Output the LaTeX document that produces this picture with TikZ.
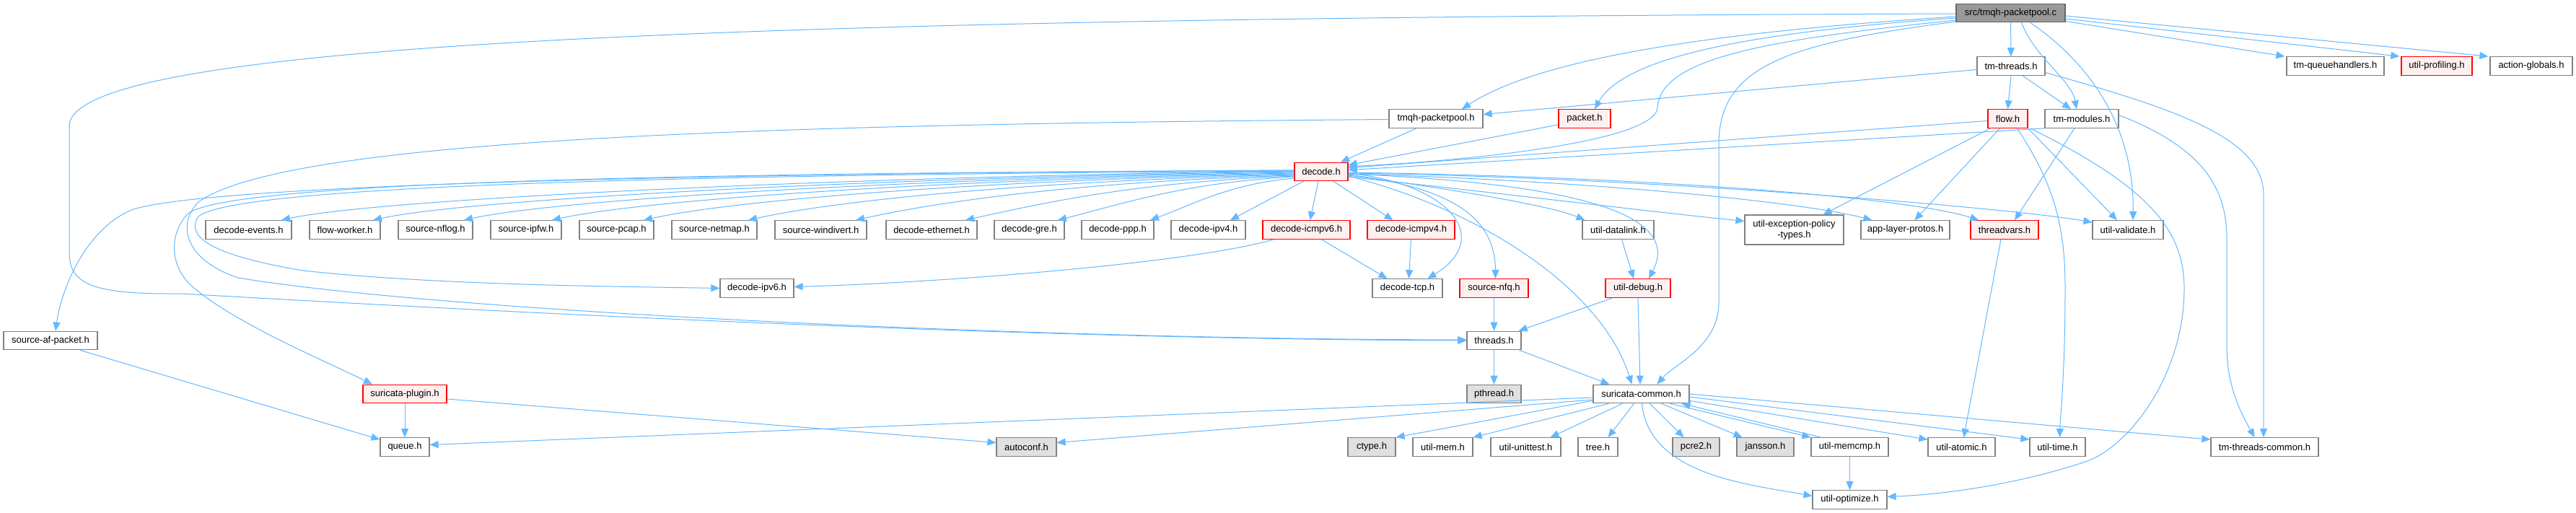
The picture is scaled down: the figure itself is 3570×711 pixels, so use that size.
\documentclass[tikz,border=0pt]{standalone}
\usepackage{fontspec}
\setmainfont{Liberation Sans}
\usetikzlibrary{arrows.meta,calc}
\definecolor{edgec}{HTML}{63B8FF}
\definecolor{nodeb}{HTML}{808080}
\definecolor{redb}{HTML}{FF0000}
\definecolor{redf}{HTML}{FFF0F0}
\definecolor{grayf}{HTML}{E0E0E0}
\definecolor{topf}{HTML}{999999}
\definecolor{topb}{HTML}{666666}
\begin{document}
\begin{tikzpicture}[x=1pt,y=-1pt,
  nd/.style={draw=nodeb, fill=white, line width=1.2pt, inner sep=0pt, minimum height=25.5pt, font=\fontsize{13}{14.5}\selectfont, text=black},
  rd/.style={nd, draw=redb, fill=redf},
  gd/.style={nd, fill=grayf},
  td/.style={nd, draw=topb, fill=topf},
  e/.style={draw=edgec, line width=1pt, -{Triangle[length=12pt,width=10pt]}}]
\useasboundingbox[fill=white] (0,0) rectangle (3570,711);

% nodes
\node[td, minimum width=151pt] (T) at (2786.5,18) {src/tmqh-packetpool.c};
\node[nd, minimum width=94pt] (tmthreads) at (2787,91.5) {tm-threads.h};
\node[nd, minimum width=135pt] (tmqh) at (3236.5,91.5) {tm-queuehandlers.h};
\node[rd, minimum width=98pt] (prof) at (3377,91.5) {util-profiling.h};
\node[nd, minimum width=114pt] (actg) at (3508,91.5) {action-globals.h};
\node[nd, minimum width=130pt] (tmqhpp) at (1990,164.5) {tmqh-packetpool.h};
\node[rd, minimum width=72pt] (packet) at (2196,164.5) {packet.h};
\node[rd, minimum width=55pt] (flow) at (2782.5,164.5) {flow.h};
\node[nd, minimum width=102pt] (tmmod) at (2885,164.5) {tm-modules.h};
\node[rd, minimum width=74pt] (decode) at (1831,238) {decode.h};

\node[nd, minimum width=119pt] (devents) at (344.5,318.5) {decode-events.h};
\node[nd, minimum width=98pt] (flowworker) at (478,318.5) {flow-worker.h};
\node[nd, minimum width=103pt] (nflog) at (603.5,318.5) {source-nflog.h};
\node[nd, minimum width=98pt] (ipfw) at (729,318.5) {source-ipfw.h};
\node[nd, minimum width=103pt] (pcap) at (854.5,318.5) {source-pcap.h};
\node[nd, minimum width=118pt] (netmap) at (990,318.5) {source-netmap.h};
\node[nd, minimum width=127pt] (windivert) at (1137.5,318.5) {source-windivert.h};
\node[nd, minimum width=126pt] (ethernet) at (1291,318.5) {decode-ethernet.h};
\node[nd, minimum width=97pt] (gre) at (1426.5,318.5) {decode-gre.h};
\node[nd, minimum width=100pt] (ppp) at (1549,318.5) {decode-ppp.h};
\node[nd, minimum width=103pt] (ipv4) at (1674.5,318.5) {decode-ipv4.h};
\node[rd, minimum width=121pt] (icmpv6) at (1810.5,318.5) {decode-icmpv6.h};
\node[rd, minimum width=121pt] (icmpv4) at (1955.5,318.5) {decode-icmpv4.h};
\node[nd, minimum width=99pt] (datalink) at (2242.5,318.5) {util-datalink.h};
\node[nd, minimum width=137pt, minimum height=41pt, align=center] (exc) at (2486.5,318.5) {util-exception-policy\\-types.h};
\node[nd, minimum width=123pt] (alp) at (2640.5,318.5) {app-layer-protos.h};
\node[rd, minimum width=94pt] (threadvars) at (2778,318.5) {threadvars.h};
\node[nd, minimum width=98pt] (validate) at (2949,318.5) {util-validate.h};

\node[nd, minimum width=102pt] (ipv6) at (1049,399.5) {decode-ipv6.h};
\node[nd, minimum width=97pt] (tcp) at (1950.5,399.5) {decode-tcp.h};
\node[rd, minimum width=95pt] (nfq) at (2070.5,399.5) {source-nfq.h};
\node[rd, minimum width=90pt] (debug) at (2270,399.5) {util-debug.h};

\node[nd, minimum width=130pt] (afpacket) at (70,472) {source-af-packet.h};
\node[nd, minimum width=75pt] (threads) at (2070.5,472) {threads.h};

\node[rd, minimum width=116pt] (plugin) at (561,546) {suricata-plugin.h};
\node[gd, minimum width=75pt] (pthread) at (2070.5,546) {pthread.h};
\node[nd, minimum width=133pt] (sc) at (2274.5,546) {suricata-common.h};

\node[nd, minimum width=68pt] (queue) at (561,619.5) {queue.h};
\node[gd, minimum width=83pt] (autoconf) at (1422.5,619.5) {autoconf.h};
\node[gd, minimum width=66pt] (ctype) at (1901,619.5) {ctype.h};
\node[nd, minimum width=83pt] (mem) at (1999.5,619.5) {util-mem.h};
\node[nd, minimum width=97pt] (unittest) at (2114.5,619.5) {util-unittest.h};
\node[nd, minimum width=55pt] (tree) at (2214.5,619.5) {tree.h};
\node[gd, minimum width=65pt] (pcre2) at (2350.5,619.5) {pcre2.h};
\node[gd, minimum width=79pt] (jansson) at (2446.5,619.5) {jansson.h};
\node[nd, minimum width=107pt] (memcmp) at (2563.5,619.5) {util-memcmp.h};
\node[nd, minimum width=93pt] (atomic) at (2718.5,619.5) {util-atomic.h};
\node[nd, minimum width=77pt] (time) at (2851.5,619.5) {util-time.h};
\node[nd, minimum width=149pt] (ttc) at (3138.5,619.5) {tm-threads-common.h};
\node[nd, minimum width=103pt] (optimize) at (2563.5,692.5) {util-optimize.h};

% edges from src/tmqh-packetpool.c
\draw[e] (T) -- (tmthreads);
\draw[e] ([xshift=15pt]T.south) .. controls (2820,80) and (2870,110) .. ([xshift=-7pt]tmmod.north);
\draw[e] ([xshift=27pt]T.south) .. controls (2900,90) and (2958,180) .. ([xshift=7pt]validate.north);
\draw[e] ($(T.south east)+(0,-2)$) -- ([xshift=-2pt]tmqh.north west);
\draw[e] ($(T.east)+(0,8)$) -- ([xshift=-2pt]prof.north west);
\draw[e] ($(T.east)+(0,4)$) -- ([xshift=-2pt]actg.north west);
\draw[e] ($(T.west)+(0,5)$) .. controls (2450,40) and (2150,70) .. ([xshift=36pt]tmqhpp.north);
\draw[e] ($(T.west)+(0,7)$) .. controls (2420,45) and (2250,80) .. ([xshift=14pt]packet.north);
\draw[e] ($(T.west)+(0,10)$) .. controls (2450,55) and (2300,80) .. (2297,150) .. controls (2290,200) and (2000,225) .. ($(decode.north east)+(0,6)$);
\draw[e] ($(T.west)+(0,12)$) .. controls (2480,60) and (2382,90) .. (2382,200) -- (2382,420) .. controls (2382,480) and (2320,505) .. ([xshift=22pt]sc.north);
\draw[e] ($(T.west)+(0,1)$) .. controls (1000,25) and (96,60) .. (96,175) -- (96,350) .. controls (96,395) and (130,408) .. (250,407) .. controls (400,415) and (1300,470) .. (threads.west);

% tm-threads.h
\draw[e] ($(tmthreads.west)+(0,5)$) -- ($(tmqhpp.east)+(0,-6)$);
\draw[e] (tmthreads.south) -- (flow.north);
\draw[e] ([xshift=16pt]tmthreads.south) -- ([xshift=-15pt]tmmod.north);
\draw[e] ($(tmthreads.east)+(0,9)$) .. controls (3010,150) and (3137,190) .. (3137,270) -- ([xshift=-1.5pt]ttc.north);

% flow.h
\draw[e] ($(flow.west)+(0,3)$) -- ($(decode.north east)+(0,8)$);
\draw[e] ([xshift=-24pt]flow.south) -- ([xshift=40pt]exc.north);
\draw[e] ([xshift=-11pt]flow.south) -- ([xshift=13pt]alp.north);
\draw[e] ([xshift=13pt]flow.south) .. controls (2850,260) and (2862,320) .. (2862,400) .. controls (2862,520) and (2855,580) .. ([xshift=3pt]time.north);
\draw[e] (flow.south east) -- ([xshift=-15pt]validate.north);
\draw[e] ($(flow.south east)+(3,0)$) .. controls (2980,260) and (3027,320) .. (3027,400) .. controls (3027,520) and (2950,620) .. (2890,640) .. controls (2800,670) and (2700,685) .. ($(optimize.east)+(0,-4)$);

% tm-modules.h
\draw[e] (tmmod.south west) -- ($(decode.north east)+(0,11)$);
\draw[e] ([xshift=-10pt]tmmod.south) -- ([xshift=14pt]threadvars.north);
\draw[e] ($(tmmod.east)+(0,-5)$) .. controls (3040,200) and (3086,250) .. (3086,330) -- (3086,480) .. controls (3086,540) and (3110,580) .. ([xshift=-14pt]ttc.north);

% threadvars
\draw[e] ([xshift=-5pt]threadvars.south) -- ([xshift=3pt]atomic.north);

% tmqh-packetpool.h / packet.h
\draw[e] ([xshift=-27pt]tmqhpp.south) -- ([xshift=27pt]decode.north);
\draw[e] ($(tmqhpp.west)+(0,1)$) .. controls (1100,172) and (400,190) .. (275,280) .. controls (245,310) and (255,360) .. (330,385) .. controls (600,430) and (1400,470) .. ($(threads.west)+(0,-1)$);
\draw[e] ($(packet.south west)+(0,-5)$) -- ($(decode.north east)+(0,4)$);

% decode.h fan to the left
\draw[e] ($(decode.west)+(0,-1)$) .. controls (1162,245) and (520,276) .. ([xshift=45.5pt]devents.north);
\draw[e] ($(decode.west)+(0,0)$) .. controls (1219,246) and (647,276) .. ([xshift=39pt]flowworker.north);
\draw[e] ($(decode.west)+(0,1)$) .. controls (1276,247) and (773,276) .. ([xshift=39.5pt]nflog.north);
\draw[e] ($(decode.west)+(0,2)$) .. controls (1331,248) and (895,276) .. ([xshift=36pt]ipfw.north);
\draw[e] ($(decode.west)+(0,3)$) .. controls (1388,249) and (1022,276) .. ([xshift=37.5pt]pcap.north);
\draw[e] ($(decode.west)+(0,4)$) .. controls (1453,250) and (1167,276) .. ([xshift=47pt]netmap.north);
\draw[e] ($(decode.west)+(0,5)$) .. controls (1520,251) and (1316,276) .. ([xshift=48.5pt]windivert.north);
\draw[e] ($(decode.west)+(0,6)$) .. controls (1589,252) and (1468,276) .. ([xshift=47pt]ethernet.north);
\draw[e] ($(decode.west)+(0,7)$) .. controls (1646,253) and (1564,280) .. ([xshift=39.5pt]gre.north);
\draw[e] ($(decode.west)+(0,9)$) .. controls (1704,255) and (1654,283) .. ([xshift=45pt]ppp.north);
\draw[e] ([xshift=13pt]decode.south west) -- ([xshift=30.5pt]ipv4.north);
\draw[e] ([xshift=-4pt]decode.south) -- ([xshift=5pt]icmpv6.north);
\draw[e] ([xshift=17pt]decode.south) -- ([xshift=-25pt]icmpv4.north);
\draw[e] ($(decode.west)+(0,-2)$) .. controls (1000,240) and (300,255) .. (185,290) .. controls (120,315) and (85,400) .. ([xshift=7pt]afpacket.north);
\draw[e] ($(decode.west)+(0,-2)$) .. controls (1000,240) and (330,250) .. (262,295) .. controls (235,320) and (232,370) .. (270,400) .. controls (330,450) and (450,500) .. ([xshift=-45pt]plugin.north);
\draw[e] ($(decode.west)+(0,-1)$) .. controls (1000,242) and (330,255) .. (275,300) .. controls (255,330) and (300,355) .. (420,375) .. controls (600,395) and (850,397) .. (ipv6.west);

% decode.h fan to the right
\draw[e] ($(decode.east)+(0,2)$) .. controls (2010,255) and (2070,330) .. ([xshift=28pt]tcp.north);
\draw[e] ($(decode.east)+(0,4)$) .. controls (2010,260) and (2072,300) .. ([xshift=2pt]nfq.north);
\draw[e] ($(decode.east)+(0,6)$) .. controls (2050,290) and (2220,400) .. ([xshift=-13pt]sc.north);
\draw[e] ($(decode.east)+(0,3)$) .. controls (2200,255) and (2330,300) .. ([xshift=15pt]debug.north);
\draw[e] ($(decode.east)+(0,5)$) .. controls (2000,260) and (2150,285) .. ([xshift=4pt]datalink.north west);
\draw[e] ($(decode.east)+(0,7)$) .. controls (2100,270) and (2300,295) .. ($(exc.north west)+(0,9)$);
\draw[e] ($(decode.east)+(0,3)$) .. controls (2200,250) and (2500,280) .. ([xshift=16pt]alp.north west);
\draw[e] ($(decode.east)+(0,1)$) .. controls (2300,245) and (2650,275) .. ([xshift=12pt]threadvars.north west);
\draw[e] ($(decode.east)+(0,2)$) .. controls (2300,246) and (2800,290) .. ($(validate.north west)+(0,3)$);

% lower part
\draw[e] ([xshift=16pt]icmpv6.south west) .. controls (1650,365) and (1300,392) .. ($(ipv6.east)+(0,-2)$);
\draw[e] ([xshift=21pt]icmpv6.south) -- ([xshift=-28pt]tcp.north);
\draw[e] (icmpv4.south) -- ([xshift=2pt]tcp.north);
\draw[e] ([xshift=5pt]datalink.south) -- ([xshift=-6pt]debug.north);
\draw[e] (nfq) -- (threads);
\draw[e] ([xshift=-35pt]debug.south) -- ($(threads.north east)+(-4,0)$);
\draw[e] (debug.south) -- ([xshift=-1.5pt]sc.north);
\draw[e] (threads) -- (pthread);
\draw[e] ($(threads.south east)+(-3,0)$) -- ([xshift=-44pt]sc.north);

\draw[e] ($(sc.west)+(0,5)$) -- ($(queue.east)+(0,-3)$);
\draw[e] ($(sc.west)+(0,8)$) -- ($(autoconf.east)+(0,-6)$);
\draw[e] ($(plugin.east)+(0,7)$) -- ($(autoconf.west)+(0,-6)$);
\draw[e] (plugin) -- (queue);
\draw[e] ([xshift=41pt]afpacket.south) -- ($(queue.north west)+(0,3)$);
\draw[e] ($(sc.south west)+(0,-4)$) -- (ctype.north east);
\draw[e] ([xshift=-45pt]sc.south) -- (mem.north east);
\draw[e] ([xshift=-26pt]sc.south) -- ([xshift=34pt]unittest.north);
\draw[e] ([xshift=-10pt]sc.south) -- ([xshift=14pt]tree.north);
\draw[e] ([xshift=12pt]sc.south) -- ([xshift=-17pt]pcre2.north);
\draw[e] ([xshift=28pt]sc.south) -- ([xshift=-32pt]jansson.north);
\draw[e] ([xshift=40pt]sc.south) -- (memcmp.north west);
\draw[e] ([xshift=-40pt]memcmp.north) -- ([xshift=56pt]sc.south);
\draw[e] ($(sc.south east)+(0,-4)$) -- ($(atomic.north west)+(0,3)$);
\draw[e] ($(sc.east)+(0,4)$) -- ($(time.north west)+(0,3)$);
\draw[e] (sc.east) -- ($(ttc.north west)+(0,3)$);
\draw[e] ([xshift=1pt]sc.south) .. controls (2285,660) and (2430,672) .. ($(optimize.west)+(0,-5)$);
\draw[e] (memcmp) -- (optimize);
\end{tikzpicture}
\end{document}
